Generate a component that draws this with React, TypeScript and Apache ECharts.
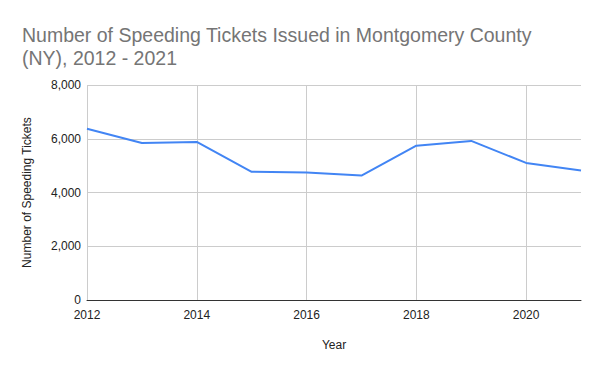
import React, { useEffect, useRef } from "react";
import * as echarts from "echarts";

const years = ["2012", "2013", "2014", "2015", "2016", "2017", "2018", "2019", "2020", "2021"];
const tickets = [6370, 5840, 5880, 4770, 4740, 4630, 5740, 5920, 5100, 4820];
const titleText = "Number of Speeding Tickets Issued in Montgomery County\n(NY), 2012 - 2021";

export default function App() {
  const ref = useRef<HTMLDivElement>(null);
  useEffect(() => {
    if (!ref.current) return;
    const chart = echarts.init(ref.current, null, { renderer: "svg" });
    const font = "'Liberation Sans', Arial, sans-serif";
    chart.setOption({
      animation: false,
      backgroundColor: "#ffffff",
      title: {
        text: titleText,
        left: 17,
        top: 19,
        textStyle: { fontFamily: font, fontSize: 19.5, fontWeight: "normal", color: "#757575", lineHeight: 22.5 },
      },
      grid: { left: 87, right: 19, top: 85, bottom: 71 },
      xAxis: {
        type: "category",
        data: years,
        boundaryGap: false,
        name: "Year",
        nameLocation: "middle",
        nameGap: 39,
        nameTextStyle: { fontFamily: font, fontSize: 12, color: "#222" },
        axisLine: { show: true, lineStyle: { color: "#333", width: 1 } },
        axisTick: { show: false },
        axisLabel: { interval: 1, fontFamily: font, fontSize: 12, color: "#222", margin: 9 },
        splitLine: { show: true, interval: 1, lineStyle: { color: "#cccccc", width: 1 } },
      },
      yAxis: {
        type: "value",
        min: 0,
        max: 8000,
        interval: 2000,
        name: "Number of Speeding Tickets",
        nameLocation: "middle",
        nameGap: 54,
        nameTextStyle: { fontFamily: font, fontSize: 12, color: "#222" },
        axisLine: { show: false },
        axisTick: { show: false },
        axisLabel: {
          fontFamily: font,
          fontSize: 12,
          color: "#222",
          margin: 6,
          formatter: (v: number) => v.toLocaleString("en-US"),
        },
        splitLine: { show: true, lineStyle: { color: "#cccccc", width: 1 } },
      },
      series: [
        {
          type: "line",
          data: tickets,
          showSymbol: false,
          symbol: "none",
          lineStyle: { color: "#4285f4", width: 2 },
          itemStyle: { color: "#4285f4" },
        },
      ],
    });
    return () => chart.dispose();
  }, []);
  return <div ref={ref} style={{ width: 600, height: 371, margin: -8 }} />;
}
